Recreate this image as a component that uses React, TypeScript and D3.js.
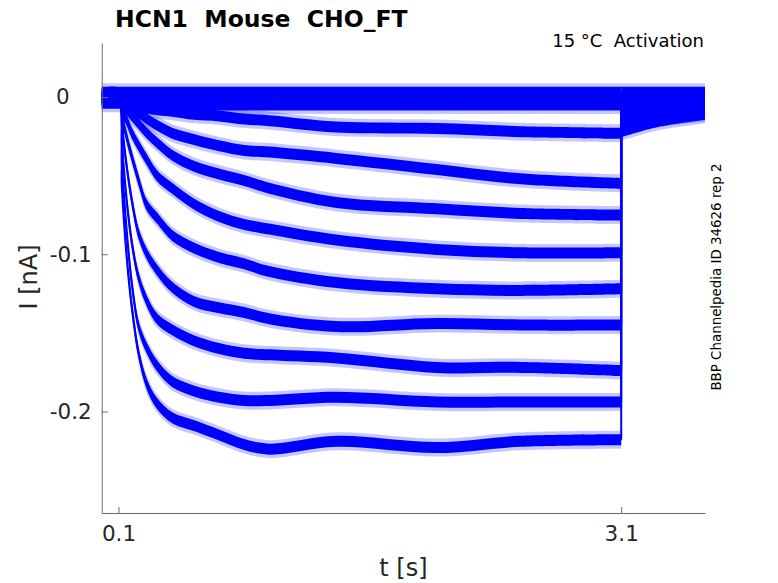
import React, { useEffect, useRef } from 'react';
import * as d3 from 'd3';

// time grid [s] of the pulse part of every sweep
const time = [0, 0.1, 0.12, 0.15, 0.18, 0.22, 0.27, 0.33, 0.42, 0.55, 0.7, 0.85, 1.0, 1.4, 2.0, 2.5, 3.1];
// current [nA] of each sweep
const sweep01 = [0, 0, -0.056, -0.103, -0.134, -0.163, -0.183, -0.195, -0.204, -0.209, -0.215, -0.221, -0.224, -0.219, -0.223, -0.219, -0.218];
const sweep02 = [0, 0, -0.042, -0.087, -0.119, -0.146, -0.160, -0.171, -0.181, -0.187, -0.191, -0.193, -0.193, -0.191, -0.194, -0.194, -0.194];
const sweep03 = [0, 0, -0.030, -0.067, -0.093, -0.115, -0.130, -0.141, -0.148, -0.155, -0.160, -0.163, -0.164, -0.166, -0.172, -0.172, -0.174];
const sweep04 = [0, 0, -0.018, -0.045, -0.066, -0.087, -0.100, -0.110, -0.121, -0.130, -0.134, -0.137, -0.141, -0.146, -0.144, -0.145, -0.145];
const sweep05 = [0, 0, -0.012, -0.026, -0.038, -0.053, -0.069, -0.077, -0.088, -0.096, -0.102, -0.106, -0.111, -0.118, -0.122, -0.123, -0.122];
const sweep06 = [0, 0, -0.008, -0.015, -0.023, -0.031, -0.040, -0.050, -0.058, -0.068, -0.076, -0.081, -0.084, -0.091, -0.097, -0.099, -0.099];
const sweep07 = [0, 0, -0.004, -0.008, -0.012, -0.017, -0.023, -0.029, -0.037, -0.044, -0.049, -0.053, -0.058, -0.067, -0.071, -0.074, -0.075];
const sweep08 = [0, 0, -0.002, -0.004, -0.007, -0.010, -0.014, -0.018, -0.023, -0.027, -0.031, -0.034, -0.035, -0.039, -0.046, -0.052, -0.055];
const sweep09 = [0, 0, -0.001, -0.002, -0.004, -0.005, -0.007, -0.008, -0.009, -0.011, -0.012, -0.014, -0.015, -0.019, -0.020, -0.022, -0.023];
const sweep10 = [0.003, 0.003, 0.003, 0.003, 0.003, 0.003, 0.003, 0.003, 0.003, 0.003, 0.003, 0.003, 0.003, 0.003, 0.003, 0.003, 0.003];
const sweep11 = [-0.001, -0.001, -0.001, -0.001, -0.001, -0.001, -0.001, -0.001, -0.001, -0.001, -0.001, -0.001, -0.001, -0.001, -0.001, -0.001, -0.001];
const sweep12 = [-0.004, -0.004, -0.004, -0.004, -0.005, -0.005, -0.005, -0.005, -0.005, -0.005, -0.005, -0.005, -0.005, -0.005, -0.005, -0.005, -0.005];

// tail currents after the pulse
const tailTime = [3.1, 3.3, 3.6];
const tail01 = [-0.022, -0.016, -0.011];
const tail02 = [-0.020, -0.014, -0.010];
const tail03 = [-0.017, -0.012, -0.009];
const tail04 = [-0.014, -0.010, -0.008];
const tail05 = [-0.012, -0.009, -0.007];
const tail06 = [-0.009, -0.007, -0.005];
const tail07 = [-0.007, -0.005, -0.004];
const tail08 = [-0.005, -0.004, -0.003];
const tail09 = [-0.003, -0.002, -0.002];
const tail10 = [0.003, 0.003, 0.003];
const tail11 = [-0.001, -0.001, -0.001];
const tail12 = [-0.005, -0.004, -0.004];

const sweeps = [sweep01, sweep02, sweep03, sweep04, sweep05, sweep06, sweep07, sweep08, sweep09, sweep10, sweep11, sweep12];
const tails = [tail01, tail02, tail03, tail04, tail05, tail06, tail07, tail08, tail09, tail10, tail11, tail12];

const xTicks = [0.1, 3.1];
const xTickLabels = ['0.1', '3.1'];
const yTicks = [-0.2, -0.1, 0];
const yTickLabels = ['-0.2', '-0.1', '0'];

const title = 'HCN1  Mouse  CHO_FT';
const subtitle = '15 °C  Activation';
const sideNote = 'BBP Channelpedia ID 34626 rep 2';
const xLabel = 't [s]';
const yLabel = 'I [nA]';

const W = 778;
const H = 583;
const FONT = 'DejaVu Sans, sans-serif';
const BLUE = '#0000ff';
const AXIS = '#6b6b6b';
const TEXT = '#262626';
const HALF = 5.5;
const FUZZ = 9;

export default function App() {
  const xAxisRef = useRef<SVGGElement>(null);
  const yAxisRef = useRef<SVGGElement>(null);

  const x = d3.scaleLinear().domain([0, 3.6]).range([101.75, 705]);
  const y = d3.scaleLinear().domain([-0.2646, 0.0344]).range([513, 43]);

  const curve = d3.curveCatmullRom.alpha(0.5);
  const band = (h: number) =>
    d3
      .area<[number, number]>()
      .x((d) => x(d[0]))
      .y0((d) => y(d[1]) + h)
      .y1((d) => y(d[1]) - h)
      .curve(curve);
  const bandCore = band(HALF);
  const bandFuzz = band(FUZZ);
  const lineMain = d3
    .line<[number, number]>()
    .x((d) => x(d[0]))
    .y((d) => y(d[1]))
    .curve(curve);

  useEffect(() => {
    const gx = d3.select(xAxisRef.current as SVGGElement);
    gx.call(
      d3
        .axisBottom(x)
        .tickValues(xTicks)
        .tickFormat((_d, i) => xTickLabels[i])
        .tickSize(-6)
        .tickSizeOuter(0)
        .tickPadding(13)
    );
    gx.attr('font-size', 21.5).attr('font-family', FONT);
    gx.select('.domain').attr('stroke', AXIS);
    gx.selectAll('.tick line').attr('stroke', AXIS);
    gx.selectAll('.tick text').attr('fill', TEXT);

    const gy = d3.select(yAxisRef.current as SVGGElement);
    gy.call(
      d3
        .axisLeft(y)
        .tickValues(yTicks)
        .tickFormat((_d, i) => yTickLabels[i])
        .tickSize(-6)
        .tickSizeOuter(0)
        .tickPadding(10)
    );
    gy.attr('font-size', 21.5).attr('font-family', FONT);
    gy.select('.domain').attr('stroke', AXIS);
    gy.selectAll('.tick line').attr('stroke', AXIS);
    gy.selectAll('.tick text')
      .attr('fill', TEXT)
      .attr('x', function () {
        return d3.select(this).text() === '0' ? -32 : -10;
      });
  }, []);

  return (
    <svg
      width={W}
      height={H}
      style={{ position: 'absolute', left: 0, top: 0, background: '#fff' }}
    >
      <rect x={0} y={0} width={W} height={H} fill="#fff" />
      <g>
        {sweeps.map((s, k) => {
          const pts = time.map((t, i) => [t, s[i]] as [number, number]);
          const tpts = tailTime.map((t, i) => [t, tails[k][i]] as [number, number]);
          const last = s[s.length - 1];
          return (
            <g key={k}>
              <path d={bandFuzz(pts) || ''} fill={BLUE} fillOpacity={0.22} />
              <path d={bandFuzz(tpts) || ''} fill={BLUE} fillOpacity={0.22} />
              <path d={bandCore(pts) || ''} fill={BLUE} />
              <path d={lineMain(pts) || ''} fill="none" stroke={BLUE} strokeWidth={2.2} />
              <line
                x1={x(tailTime[0])}
                x2={x(tailTime[0])}
                y1={y(last)}
                y2={y(tails[k][0])}
                stroke={BLUE}
                strokeWidth={2}
              />
              <path d={bandCore(tpts) || ''} fill={BLUE} />
            </g>
          );
        })}
      </g>
      <g ref={xAxisRef} transform={`translate(0,${y.range()[0]})`} />
      <g ref={yAxisRef} transform={`translate(${x.range()[0]},0)`} />

      <text
        x={115}
        y={27}
        fontFamily={FONT}
        fontWeight="bold"
        fontSize={23.5}
        fill="#000"
        style={{ whiteSpace: 'pre' }}
      >
        {title}
      </text>
      <text
        x={704}
        y={47}
        textAnchor="end"
        fontFamily={FONT}
        fontSize={18}
        fill="#000"
        style={{ whiteSpace: 'pre' }}
      >
        {subtitle}
      </text>
      <text
        transform={`translate(721,${277}) rotate(-90)`}
        textAnchor="middle"
        fontFamily={FONT}
        fontSize={13.4}
        fill="#000"
      >
        {sideNote}
      </text>
      <text
        x={(x.range()[0] + x.range()[1]) / 2}
        y={576}
        textAnchor="middle"
        fontFamily={FONT}
        fontSize={24}
        fill={TEXT}
      >
        {xLabel}
      </text>
      <text
        transform={`translate(37,${277}) rotate(-90)`}
        textAnchor="middle"
        fontFamily={FONT}
        fontSize={24}
        fill={TEXT}
      >
        {yLabel}
      </text>
    </svg>
  );
}
